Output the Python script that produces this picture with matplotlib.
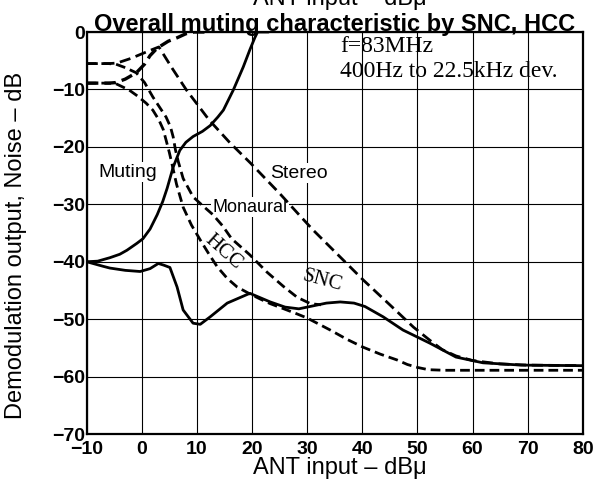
import numpy as np
import matplotlib
matplotlib.use("Agg")
import matplotlib.pyplot as plt
from matplotlib.patches import Rectangle

# values (ANT input dBu -> output dB)
muting_x = [-10, -8, -5.8, -4, -2.7, -0.9, 0.2, 1.5, 2.8, 3.8, 4.6, 5.7, 6.9, 8, 9.3, 11, 12.4, 13.8, 14.8, 16.6, 18.4, 19.6, 20.5, 21, 23]
muting_y = [-40, -39.9, -39.3, -38.7, -38, -36.8, -36, -34.3, -31.8, -29.5, -27.2, -23.5, -20.6, -19.2, -18.2, -17.3, -16.3, -14.8, -13.6, -10.1, -6.1, -3.1, -1, 0, 0]

total_x = [-10, -7, -5.8, -3, -0.3, 1.5, 3, 4, 5.1, 6.4, 7.5, 9.3, 10.6, 12.4, 15.5, 19.6, 23.3, 26, 28.5, 31, 33.5, 36, 38.5, 40.5, 43.8, 47.4, 52.3, 57, 61.9, 68.9, 80]
total_y = [-40, -40.8, -41.1, -41.5, -41.7, -41.2, -40.3, -40.6, -41, -44.4, -48.4, -50.7, -50.9, -49.6, -47.2, -45.5, -47, -47.9, -48.2, -47.7, -47.2, -47, -47.2, -47.8, -49.6, -51.9, -54.2, -56.6, -57.6, -58, -58.1]

stereo_x = [-10, -6, -4.5, -2, 0, 1.5, 3.1, 5.5, 8.1, 12.2, 16, 19.7, 25.1, 28.7, 31.1, 40.2, 45, 49.3, 52.3, 54.5, 57, 60, 65, 70, 80]
stereo_y = [-5.5, -5.5, -5.4, -4.6, -3.8, -3.2, -2.6, -6.3, -10.1, -15.3, -19.3, -22.8, -28.2, -32, -34.5, -43.2, -47.5, -51.4, -53.7, -55.3, -56.4, -57.2, -57.8, -58, -58.1]

mono_x = [-10, -6, -4.7, -3, -1, 0.5, 2, 3.3, 4.4, 5.2, 5.7, 6.1, 6.6, 7.5, 9.3, 11, 12.9, 14.7, 16.3, 19.6, 22.7, 25.7, 28.2, 30.6, 32.5]
mono_y = [-5.5, -5.5, -5.6, -6.2, -7.1, -8.8, -11.3, -13.2, -14.8, -16.5, -18.3, -20.5, -22.5, -25.5, -28.7, -30.2, -31.8, -33.8, -36, -38.8, -41.8, -44.3, -46.2, -47.3, -47.5]

hcc_x = [-10, -6, -4.7, -2.3, -0.7, 0.8, 2, 3.1, 3.9, 4.4, 5, 5.6, 6.3, 7.5, 9, 10.6, 12.2, 13.7, 15.5, 17.3, 19.6, 21.5, 23.3, 25.5, 28.2, 30, 32.2, 34.2, 37.2, 40.2, 43.3, 46.3, 48.2, 50, 52, 55, 80]
hcc_y = [-8.9, -8.9, -9, -10.1, -11.2, -12.4, -13.6, -15.3, -17, -18.8, -21, -23.5, -26.5, -30.5, -33.6, -36.2, -38.7, -40.9, -42.9, -44.4, -45.6, -46.5, -47.3, -48.1, -49.1, -49.8, -50.9, -51.9, -53.5, -54.9, -56.1, -57.1, -57.9, -58.4, -58.8, -58.9, -58.9]

rise_x = [-10, -6, -4.7, -3, -1, 0.5, 1.5, 2.7, 3.3, 4.8, 6.4, 8, 9.5, 12]
rise_y = [-8.9, -8.9, -8.8, -8.2, -7.1, -5.6, -4.1, -2.9, -2.5, -1.6, -1.0, -0.3, 0, 0]

xticks = [-10, 0, 10, 20, 30, 40, 50, 60, 70, 80]
yticks = [0, -10, -20, -30, -40, -50, -60, -70]

plt.rcParams['font.family'] = ['Liberation Sans', 'DejaVu Sans']

fig = plt.figure(figsize=(6.02, 4.83), dpi=100)
ax = fig.add_axes([0.144, 0.1014, 0.824, 0.8323])

ax.set_xlim(-10, 80)
ax.set_ylim(-70, 0)
ax.set_xticks(xticks)
ax.set_yticks(yticks)
ax.set_xticklabels([str(v).replace('-', '\u2212') for v in xticks], fontweight='bold', fontsize=14)
ax.set_yticklabels([str(v).replace('-', '\u2212') for v in yticks], fontweight='bold', fontsize=14)
ax.tick_params(axis='x', length=0, pad=5)
ax.tick_params(axis='y', length=0, pad=1)
ax.grid(True, color='black', linewidth=0.8)
for s in ax.spines.values():
    s.set_linewidth(1.6)

# blank area behind the test condition note, like the datasheet
ax.add_patch(Rectangle((31, -9.6), 48.7, 9.4, facecolor='white', edgecolor='none', zorder=1.5))

lw = 2.0
ax.plot(muting_x, muting_y, color='black', lw=lw, solid_capstyle='round', zorder=4)
ax.plot(total_x, total_y, color='black', lw=lw, solid_capstyle='round', zorder=4)
ax.plot(stereo_x, stereo_y, color='black', lw=lw, dashes=(4, 2), zorder=3)
ax.plot(mono_x, mono_y, color='black', lw=lw, dashes=(3.5, 1.8), zorder=3)
ax.plot(hcc_x, hcc_y, color='black', lw=lw, dashes=(3.5, 1.8), zorder=3)
ax.plot(rise_x, rise_y, color='black', lw=lw + 0.4, dashes=(3.5, 1.8), zorder=3)

box = dict(facecolor='white', edgecolor='none', pad=1)
ax.text(-2.5, -24.4, 'Muting', fontsize=14, ha='center', va='center', bbox=box, zorder=2)
ax.text(28.6, -24.6, 'Stereo', fontsize=14, ha='center', va='center', bbox=box, zorder=2)
ax.text(19.6, -30.5, 'Monaural', fontsize=13, ha='center', va='center', bbox=box, zorder=2)
ax.text(14.8, -38.3, 'HCC', fontsize=15, family='Liberation Serif', rotation=-42,
        ha='center', va='center', zorder=5)
ax.text(32.7, -43.4, 'SNC', fontsize=15, family='Liberation Serif', rotation=-15,
        ha='center', va='center', zorder=5)
ax.text(36, -2.6, 'f=83MHz', fontsize=17, family='Liberation Serif', ha='left', va='center', zorder=2)
ax.text(36, -6.9, '400Hz to 22.5kHz dev.', fontsize=17, family='Liberation Serif', ha='left', va='center', zorder=2)

ax.set_xlabel('ANT input \u2013 dB\u03bc', fontsize=17)
ax.xaxis.set_label_coords(0.511, -0.085)
ax.xaxis.label.set_va('center')
ax.set_ylabel('Demodulation output, Noise \u2013 dB', fontsize=17)
ax.yaxis.set_label_coords(-0.1425, 0.47)
ax.yaxis.label.set_va('center')
fig.text(0.556, 1 - 31 / 483, 'Overall muting characteristic by SNC, HCC', fontsize=17,
         fontweight='bold', ha='center', va='baseline')
fig.text(0.565, 1 - 5 / 483, 'ANT input \u2013 dB\u03bc', fontsize=17, ha='center', va='baseline')

fig.savefig('out.png', dpi=100)
